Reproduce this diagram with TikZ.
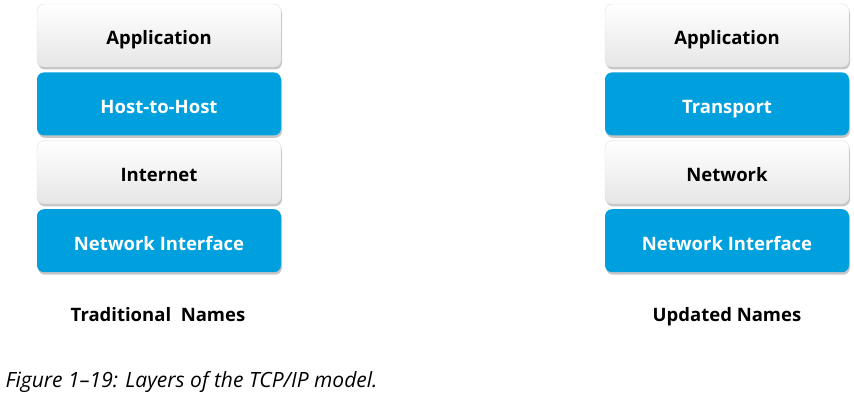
\documentclass[tikz,border=0pt]{standalone}
\usepackage{fontspec}
\setmainfont{Open Sans}
\usetikzlibrary{positioning,shadows}
\definecolor{layerblue}{RGB}{0,160,222}
\definecolor{layergrey}{RGB}{230,230,230}
\tikzset{
  layer/.style={rounded corners=7pt, minimum width=244pt, minimum height=63pt,
    inner sep=0pt, text height=19pt, text depth=0pt,
    font=\fontsize{18.5}{22}\selectfont\bfseries,
    drop shadow={shadow xshift=1pt, shadow yshift=-2.5pt, opacity=0.45}},
  greylayer/.style={layer, top color=white, bottom color=layergrey, text=black,
    draw=gray!25, line width=0.4pt},
  bluelayer/.style={layer, fill=layerblue, text=white},
  setname/.style={anchor=base, font=\fontsize{18.5}{22}\selectfont\bfseries},
}

\begin{document}
\begin{tikzpicture}[x=1pt, y=-1pt]
        \useasboundingbox (0,0) rectangle (854,404);

        % Traditional names
        \node[greylayer] (tapp) at (159,35.5) {Application};
        \node[bluelayer, below=5pt of tapp] (thost) {Host-to-Host};
        \node[greylayer, below=5pt of thost] (tnet) {Internet};
        \node[bluelayer, below=5pt of tnet] (tlink) {Network Interface};
        \node[setname] (tname) at (158,321) {Traditional\ \ Names};

        % Updated names
        \node[greylayer] (uapp) at (727,35.5) {Application};
        \node[bluelayer, below=5pt of uapp] (utrans) {Transport};
        \node[greylayer, below=5pt of utrans] (unet) {Network};
        \node[bluelayer, below=5pt of unet] (ulink) {Network Interface};
        \node[setname] (uname) at (727,321) {Updated Names};

        % Caption
        \node[anchor=west, font=\fontsize{21}{25}\selectfont\itshape] (caption) at (2,382) {Figure 1--19: Layers of the TCP/IP model.};
      \end{tikzpicture}
\end{document}
